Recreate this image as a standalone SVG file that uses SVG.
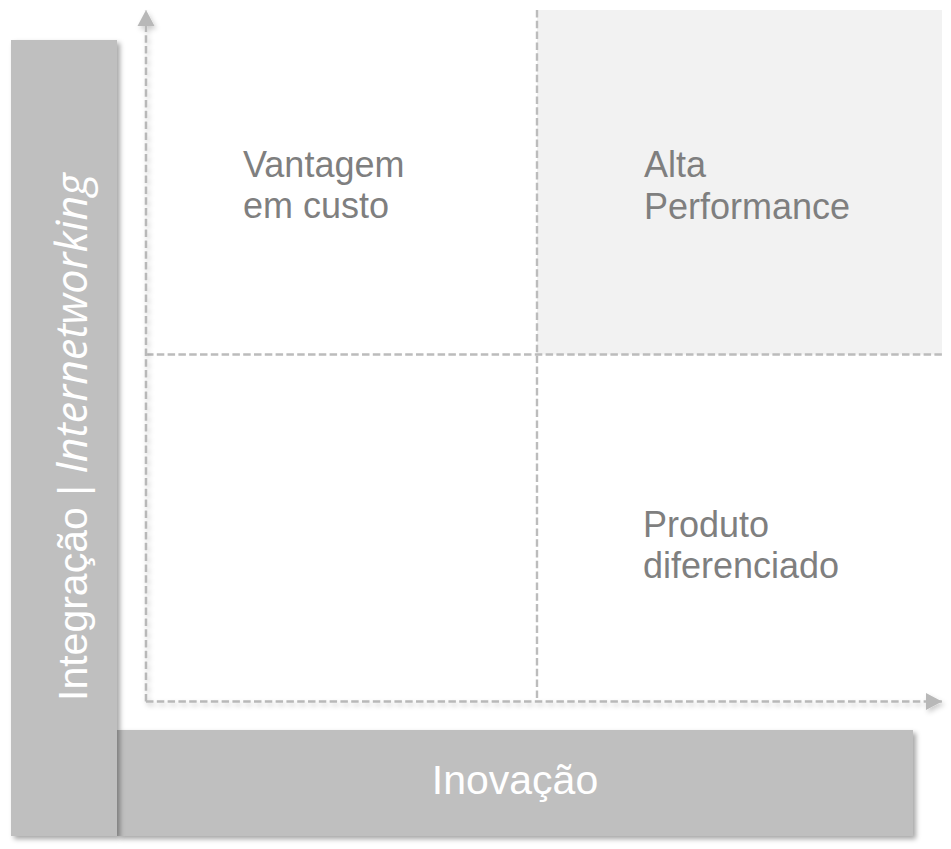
<svg xmlns="http://www.w3.org/2000/svg" width="951" height="849" viewBox="0 0 951 849">
  <style>
    .bar { fill: #bfbfbf; }
    .lbl { font-family: "Liberation Sans", Arial, sans-serif; font-size: 36px; fill: #7f7f7f; }
    .axis { stroke: #b8b8b8; stroke-width: 2.6; stroke-dasharray: 7.5 3.3; fill: none; }
    .grid { stroke: #bcbcbc; stroke-width: 2.4; stroke-dasharray: 7.5 3.3; fill: none; }
    .big { font-family: "Liberation Sans", Arial, sans-serif; font-size: 41px; fill: #ffffff; }
  </style>
  <defs>
    <filter id="sh" x="-10%" y="-10%" width="130%" height="130%">
      <feDropShadow dx="3" dy="3" stdDeviation="2.5" flood-color="#000" flood-opacity="0.35"/>
    </filter>
    <filter id="shl" x="-10%" y="-10%" width="130%" height="130%">
      <feDropShadow dx="2" dy="3" stdDeviation="2.5" flood-color="#000" flood-opacity="0.2"/>
    </filter>
    <marker id="arr" markerUnits="userSpaceOnUse" markerWidth="20" markerHeight="20" viewBox="0 0 20 20" refX="16" refY="10" orient="auto">
      <path d="M0,1.5 L16,10 L0,18.5 Z" fill="#b8b8b8"/>
    </marker>
  </defs>

  <rect id="quadrant-shade" x="537" y="10" width="405" height="344.5" fill="#f2f2f2"/>

  <g id="connectors">
    <line class="grid" x1="537" y1="10" x2="537" y2="701"/>
    <line class="grid" x1="146" y1="354.5" x2="942" y2="354.5"/>
    <g filter="url(#shl)">
      <line class="axis" x1="146" y1="701.5" x2="146" y2="10" marker-end="url(#arr)"/>
      <line class="axis" x1="146" y1="701.5" x2="942" y2="701.5" marker-end="url(#arr)"/>
    </g>
  </g>

  <g id="bottom-bar">
    <rect class="bar" x="117" y="730" width="796" height="106" filter="url(#sh)"/>
    <text class="big" x="515" y="794" text-anchor="middle">Inovação</text>
  </g>

  <g id="left-bar">
    <rect class="bar" x="11" y="40" width="106" height="796" filter="url(#sh)"/>
    <text class="big" transform="translate(87,701) rotate(-90)" x="0" y="0" font-size="40">Integração | <tspan font-family="'Open Sans', sans-serif" font-style="italic" font-size="43">Internetworking</tspan></text>
  </g>

  <g id="q-vantagem">
    <text class="lbl" x="243" y="177">Vantagem</text>
    <text class="lbl" x="243" y="218">em custo</text>
  </g>
  <g id="q-alta">
    <text class="lbl" x="644" y="177">Alta</text>
    <text class="lbl" x="644" y="219">Performance</text>
  </g>
  <g id="q-produto">
    <text class="lbl" x="643" y="537">Produto</text>
    <text class="lbl" x="643" y="578">diferenciado</text>
  </g>
</svg>
